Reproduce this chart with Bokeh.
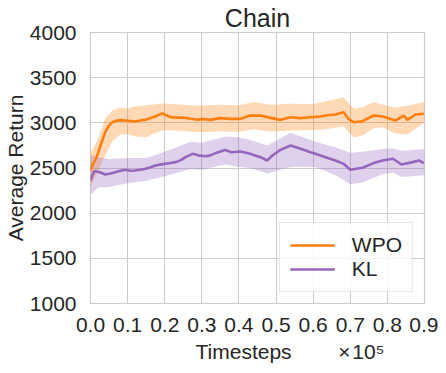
from bokeh.plotting import figure
from bokeh.models import Range1d, FixedTicker, Legend, LegendItem, Title
from bokeh.embed import file_html
from bokeh.resources import INLINE

# ---- data (timesteps in units of 1e5) ----
wpo_t = [0.000, 0.005, 0.013, 0.020, 0.027, 0.034, 0.040, 0.047, 0.054, 0.060,
         0.067, 0.080, 0.094, 0.107, 0.120, 0.134, 0.148, 0.160, 0.175, 0.185,
         0.194, 0.205, 0.220, 0.240, 0.256, 0.270, 0.290, 0.300, 0.323, 0.350,
         0.377, 0.404, 0.430, 0.458, 0.485, 0.512, 0.539, 0.566, 0.593, 0.620,
         0.633, 0.660, 0.682, 0.695, 0.709, 0.733, 0.763, 0.787, 0.822, 0.844,
         0.854, 0.876, 0.898]
wpo_mean = [2470, 2530, 2590, 2660, 2750, 2830, 2900, 2950, 2990, 3010,
            3020, 3030, 3025, 3020, 3015, 3025, 3035, 3050, 3070, 3090,
            3105, 3080, 3060, 3058, 3055, 3045, 3035, 3044, 3033, 3052,
            3044, 3044, 3080, 3080, 3055, 3033, 3062, 3052, 3062, 3070,
            3081, 3092, 3118, 3044, 3007, 3018, 3081, 3070, 3026, 3081,
            3033, 3092, 3100]

wpo_band_t = [0.000, 0.020, 0.040, 0.060, 0.080, 0.100, 0.120, 0.150, 0.175, 0.200,
              0.250, 0.290, 0.350, 0.400, 0.440, 0.485, 0.540, 0.600, 0.633, 0.682,
              0.709, 0.733, 0.763, 0.787, 0.822, 0.854, 0.900]
wpo_upper = [2660, 2820, 3050, 3140, 3170, 3160, 3180, 3195, 3205, 3215,
             3200, 3190, 3200, 3195, 3230, 3200, 3210, 3205, 3240, 3280,
             3160, 3170, 3230, 3200, 3170, 3190, 3230]
wpo_lower = [2290, 2460, 2640, 2800, 2870, 2875, 2850, 2840, 2890, 2920,
             2910, 2895, 2905, 2900, 2930, 2905, 2915, 2920, 2930, 2960,
             2840, 2860, 2940, 2950, 2880, 2870, 3000]

kl_t = [0.000, 0.008, 0.013, 0.027, 0.040, 0.054, 0.067, 0.080, 0.094, 0.107,
        0.120, 0.134, 0.148, 0.160, 0.175, 0.190, 0.200, 0.215, 0.230, 0.245,
        0.256, 0.275, 0.290, 0.310, 0.323, 0.340, 0.363, 0.380, 0.404, 0.430,
        0.458, 0.476, 0.490, 0.512, 0.539, 0.566, 0.593, 0.606, 0.633, 0.660,
        0.682, 0.700, 0.733, 0.763, 0.787, 0.815, 0.838, 0.868, 0.885, 0.898]
kl_mean = [2360, 2450, 2465, 2450, 2428, 2440, 2454, 2470, 2480, 2470,
           2472, 2480, 2491, 2505, 2528, 2540, 2546, 2555, 2565, 2590,
           2620, 2657, 2640, 2630, 2640, 2670, 2700, 2675, 2683, 2657,
           2620, 2583, 2638, 2700, 2749, 2713, 2675, 2657, 2620, 2583,
           2546, 2480, 2502, 2554, 2583, 2602, 2539, 2565, 2583, 2554]

kl_band_t = [0.000, 0.020, 0.050, 0.100, 0.150, 0.200, 0.270, 0.300, 0.363, 0.400,
             0.430, 0.476, 0.539, 0.606, 0.660, 0.700, 0.733, 0.787, 0.815, 0.838,
             0.900]
kl_upper = [2640, 2620, 2600, 2610, 2610, 2680, 2790, 2780, 2850, 2840,
            2810, 2750, 2890, 2790, 2730, 2670, 2680, 2710, 2720, 2690,
            2710]
kl_lower = [2200, 2280, 2290, 2330, 2360, 2410, 2490, 2480, 2540, 2510,
            2500, 2440, 2510, 2510, 2420, 2320, 2340, 2430, 2450, 2400,
            2420]

x_ticks = [0.0, 0.1, 0.2, 0.3, 0.4, 0.5, 0.6, 0.7, 0.8, 0.9]
y_ticks = [1000, 1500, 2000, 2500, 3000, 3500, 4000]

ORANGE = "#ff7f0e"
PURPLE = "#9467bd"
TXT = "#262626"
GRID = "#cccccc"
FONT = "Liberation Sans"

p = figure(frame_width=334, frame_height=271, output_backend="svg",
           toolbar_location=None, x_range=Range1d(0, 0.9),
           y_range=Range1d(1000, 4000),
           min_border_left=82, min_border_right=14, min_border_top=24,
           min_border_bottom=0)

p.title.text = "Chain"
p.title.align = "center"
p.title.text_font = FONT
p.title.text_font_size = "25px"
p.title.text_font_style = "normal"
p.title.text_color = TXT
p.title.standoff = 2

p.background_fill_color = "white"
p.border_fill_color = "white"
p.outline_line_color = GRID
p.outline_line_width = 1.2

for ax in (p.xaxis[0], p.yaxis[0]):
    ax.axis_line_color = None
    ax.major_tick_line_color = None
    ax.minor_tick_line_color = None
    ax.major_label_text_font = FONT
    ax.major_label_text_font_size = "21px"
    ax.major_label_text_color = TXT

p.xaxis[0].ticker = FixedTicker(ticks=x_ticks)
p.xaxis[0].major_label_overrides = {t: f"{t:.1f}" for t in x_ticks}
p.xaxis[0].major_label_standoff = 8
p.yaxis[0].ticker = FixedTicker(ticks=y_ticks)
p.yaxis[0].major_label_standoff = 8
p.yaxis[0].axis_label = "Average Return"
p.yaxis[0].axis_label_text_font = FONT
p.yaxis[0].axis_label_text_font_size = "21px"
p.yaxis[0].axis_label_text_font_style = "normal"
p.yaxis[0].axis_label_text_color = TXT
p.yaxis[0].axis_label_standoff = 0

p.xgrid.grid_line_color = GRID
p.ygrid.grid_line_color = GRID
p.xgrid.grid_line_width = 1
p.ygrid.grid_line_width = 1
p.xgrid.ticker = FixedTicker(ticks=x_ticks)
p.ygrid.ticker = FixedTicker(ticks=y_ticks)

p.varea(x=wpo_band_t, y1=wpo_lower, y2=wpo_upper, fill_color=ORANGE, fill_alpha=0.3)
p.varea(x=kl_band_t, y1=kl_lower, y2=kl_upper, fill_color=PURPLE, fill_alpha=0.3)
r1 = p.line(wpo_t, wpo_mean, line_color=ORANGE, line_width=2.6)
r2 = p.line(kl_t, kl_mean, line_color=PURPLE, line_width=2.6)

legend = Legend(items=[LegendItem(label="WPO", renderers=[r1]),
                       LegendItem(label="KL", renderers=[r2])],
                location="bottom_right", margin=11, padding=10, spacing=0,
                glyph_width=45, glyph_height=20, label_standoff=17,
                label_text_font=FONT, label_text_font_size="21px",
                label_text_color=TXT, border_line_color=GRID,
                border_line_width=1, background_fill_alpha=0.8)
p.add_layout(legend)

NB = "\u00a0"
xlab = Title(text="Timesteps" + NB * 8 + "×\u200a10\u2075", align="left", offset=105,
             text_font=FONT, text_font_size="21px", text_font_style="normal",
             text_color=TXT, standoff=6)
p.add_layout(xlab, "below")

open("out.html", "w").write(file_html(p, INLINE))
